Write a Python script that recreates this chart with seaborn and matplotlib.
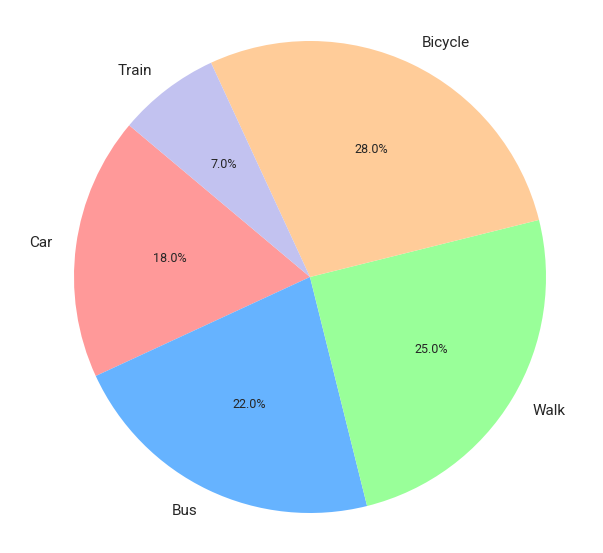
import matplotlib
matplotlib.use("Agg")
import matplotlib.pyplot as plt
import seaborn as sns

modes = ["Car", "Bus", "Walk", "Bicycle", "Train"]
shares = [18, 22, 25, 28, 7]
colors = ["#ff9999", "#66b3ff", "#99ff99", "#ffcc99", "#c2c2f0"]

sns.set_theme(style="white")
plt.rcParams["font.family"] = ["Roboto", "DejaVu Sans"]

fig = plt.figure(figsize=(6.03, 5.53), dpi=100)
# pie radius ~236 px, centre at (310, 277)
ax = fig.add_axes([(310 - 295) / 603, (553 - 277 - 295) / 553, 590 / 603, 590 / 553])

wedges, texts, autotexts = ax.pie(shares, labels=modes, colors=colors,
                                  autopct="%1.1f%%", startangle=140,
                                  wedgeprops={"linewidth": 0},
                                  textprops={"fontsize": 11})
for t in autotexts:
    t.set_fontsize(9)
ax.set_aspect("equal")

fig.savefig("out.png", dpi=100)
